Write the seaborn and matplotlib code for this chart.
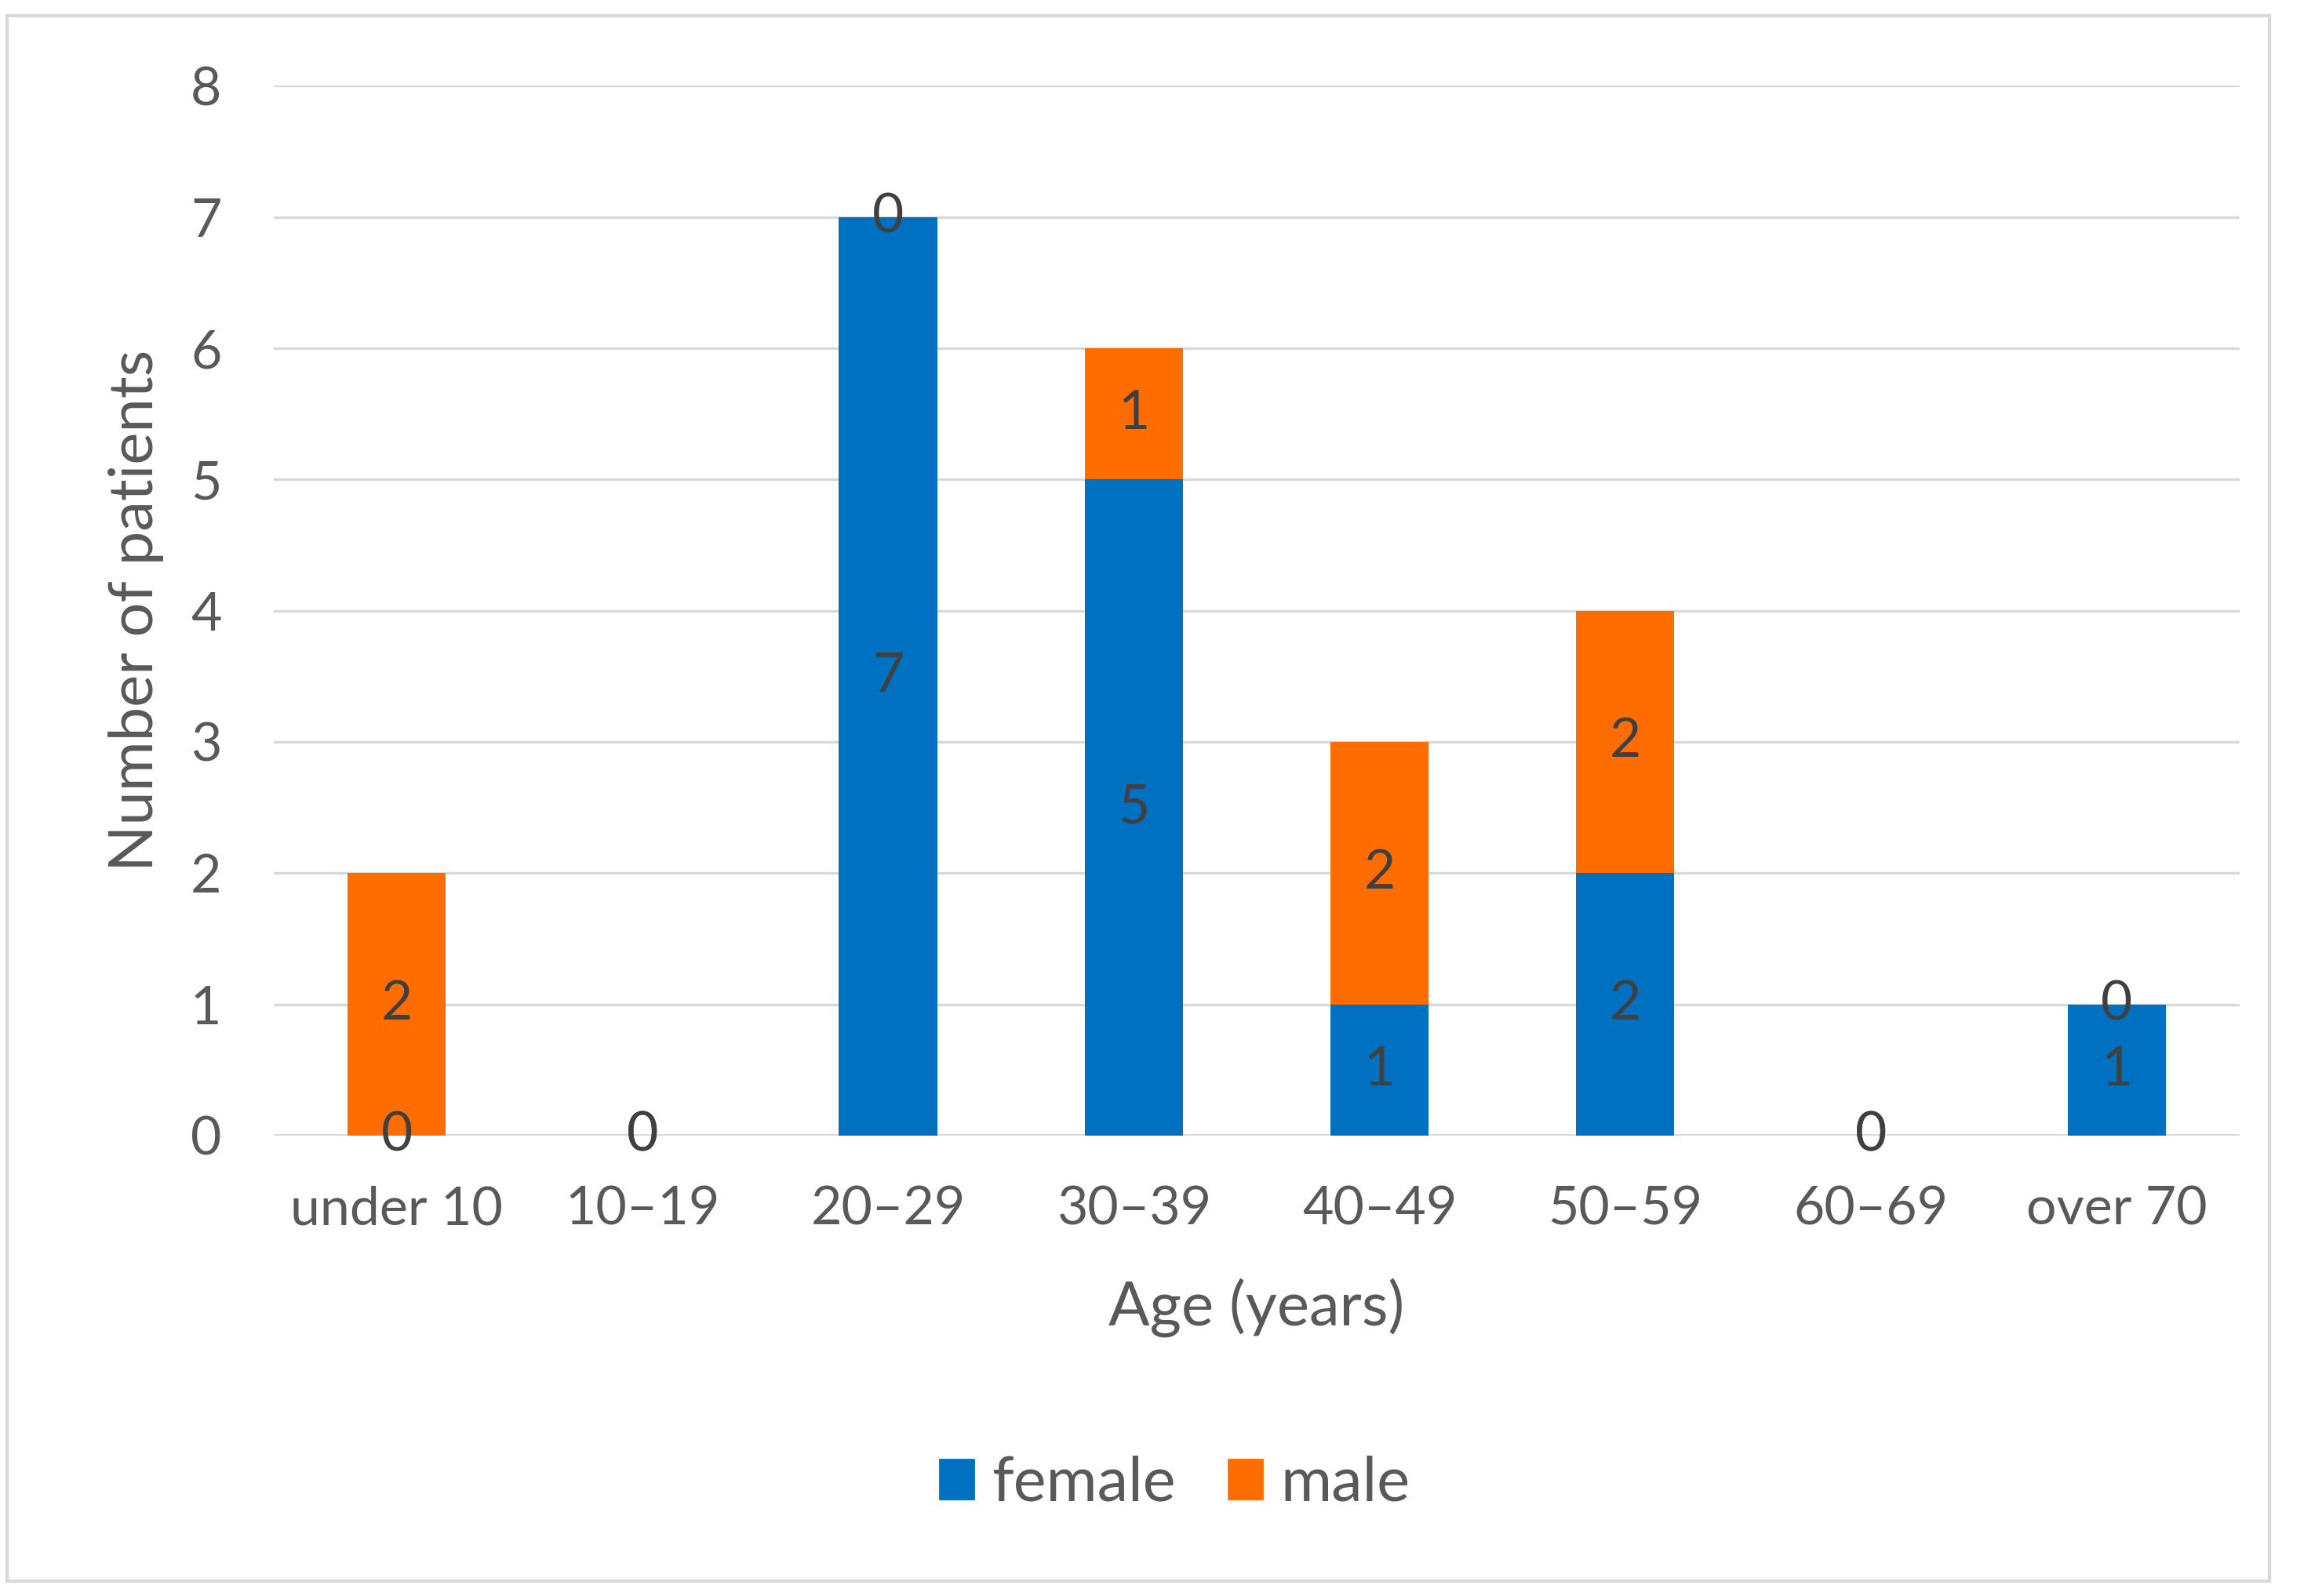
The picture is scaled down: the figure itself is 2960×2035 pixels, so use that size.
import matplotlib
matplotlib.use("Agg")
import matplotlib.pyplot as plt
import matplotlib.patches as mpatches
import seaborn as sns
import pandas as pd

# Data
age_groups = ["under 10", "10–19", "20–29", "30–39", "40–49", "50–59", "60–69", "over 70"]
female = [0, 0, 7, 5, 1, 2, 0, 1]
male = [2, 0, 0, 1, 2, 2, 0, 0]
yticks = [0, 1, 2, 3, 4, 5, 6, 7, 8]

blue = "#0070C0"
orange = "#FF6D01"
grid_grey = "#D9D9D9"
text_grey = "#595959"
label_grey = "#404040"

sns.set_theme(style="white")
plt.rcParams["font.family"] = ["Lato", "DejaVu Sans"]

df = pd.DataFrame({"age": age_groups, "female": female, "male": male})
df["total"] = df["female"] + df["male"]

fig = plt.figure(figsize=(14.8, 10.175), dpi=200)
ax = fig.add_axes([0.1179, 0.2885, 0.8466, 0.6577])

# stacked bars: total in orange, female drawn over it in blue
sns.barplot(data=df, x="age", y="total", color=orange, width=0.4,
            saturation=1, ax=ax, zorder=3, linewidth=0)
sns.barplot(data=df, x="age", y="female", color=blue, width=0.4,
            saturation=1, ax=ax, zorder=4, linewidth=0)

# data labels in the middle of each segment
for i, row in df.iterrows():
    ax.text(i, row["female"] / 2, str(row["female"]), ha="center", va="center",
            fontsize=25, color=label_grey, zorder=5)
    ax.text(i, row["female"] + row["male"] / 2, str(row["male"]), ha="center", va="center",
            fontsize=25, color=label_grey, zorder=5)

ax.set_xlim(-0.5, len(age_groups) - 0.5)
ax.set_ylim(0, 8)
ax.set_yticks(yticks)
ax.yaxis.grid(True, color=grid_grey, linewidth=1.2, zorder=0)
ax.set_axisbelow(True)
for s in ax.spines.values():
    s.set_visible(False)
ax.axhline(0, color=grid_grey, linewidth=1.4, zorder=2)

ax.tick_params(axis="both", length=0, labelsize=24.5, labelcolor=text_grey)
ax.tick_params(axis="x", pad=23)
ax.tick_params(axis="y", pad=24)

ax.set_xlabel("Age (years)", fontsize=28, color=text_grey, labelpad=20)
ax.set_ylabel("Number of patients", fontsize=28, color=text_grey, labelpad=12)

handles = [mpatches.Patch(color=blue, label="female"),
           mpatches.Patch(color=orange, label="male")]
fig.legend(handles=handles, loc="center", bbox_to_anchor=(0.506, 0.0703), ncol=2,
           frameon=False, fontsize=28.5, labelcolor=text_grey,
           handlelength=0.54, handleheight=0.6, handletextpad=0.3, columnspacing=0.85)

# outer frame around the chart
fig.patches.append(mpatches.Rectangle((9 / 2960, 1 - 2016 / 2035), 2884 / 2960, 1996 / 2035,
                                      transform=fig.transFigure, fill=False,
                                      edgecolor=grid_grey, linewidth=1.5))

fig.savefig("out.png", dpi=200)
plt.close(fig)
